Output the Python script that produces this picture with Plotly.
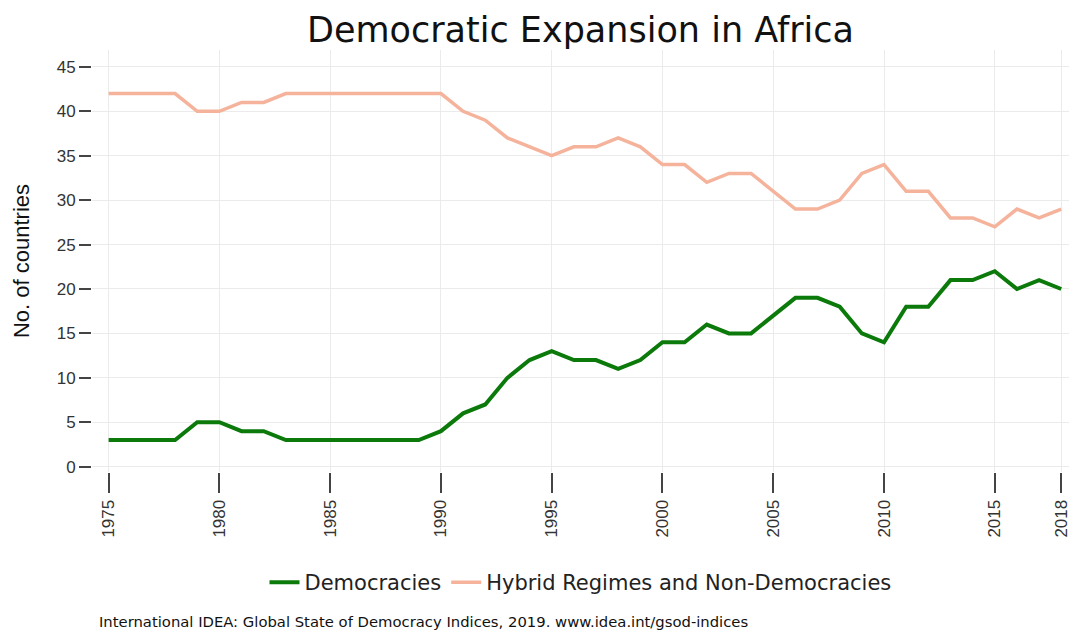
import plotly.graph_objects as go

years = list(range(1975, 2019))
democracies = [3, 3, 3, 3, 5, 5, 4, 4, 3, 3, 3, 3, 3, 3, 3, 4, 6, 7, 10, 12,
               13, 12, 12, 11, 12, 14, 14, 16, 15, 15, 17, 19, 19, 18, 15, 14,
               18, 18, 21, 21, 22, 20, 21, 20]
hybrid = [42, 42, 42, 42, 40, 40, 41, 41, 42, 42, 42, 42, 42, 42, 42, 42, 40, 39,
          37, 36, 35, 36, 36, 37, 36, 34, 34, 32, 33, 33, 31, 29, 29, 30, 33, 34,
          31, 31, 28, 28, 27, 29, 28, 29]
x_ticks = [1975, 1980, 1985, 1990, 1995, 2000, 2005, 2010, 2015, 2018]
y_ticks = [0, 5, 10, 15, 20, 25, 30, 35, 40, 45]

fig = go.Figure()
fig.add_trace(go.Scatter(x=years, y=democracies, mode="lines", name="Democracies",
                         line=dict(color="#0b7a0b", width=4)))
fig.add_trace(go.Scatter(x=years, y=hybrid, mode="lines",
                         name="Hybrid Regimes and Non-Democracies",
                         line=dict(color="#f5b39c", width=3.5)))

font_family = "Liberation Sans, Arial, sans-serif"
wide_family = "DejaVu Sans, Liberation Sans, sans-serif"
fig.update_layout(
    width=1073, height=630,
    margin=dict(l=92, r=4, t=50, b=158),
    paper_bgcolor="white", plot_bgcolor="white",
    font=dict(family=font_family, color="#222"),
    title=dict(text="Democratic Expansion in Africa", x=0.5, xref="paper",
               xanchor="center", y=1 - 30 / 630, yanchor="middle",
               font=dict(size=35, color="#111", family=wide_family)),
    legend=dict(orientation="h", x=0.5, xanchor="center", y=-0.262, yanchor="middle",
                font=dict(size=21, color="#222", family=wide_family), itemwidth=30),
    showlegend=True,
)
fig.update_xaxes(range=[1974.25, 2018.35], tickvals=x_ticks, ticktext=[str(v) for v in x_ticks],
                 tickangle=-90, ticks="outside", ticklen=20, tickcolor="#444", tickwidth=1.5,
                 showgrid=True, gridcolor="#ebebeb", gridwidth=1, zeroline=False,
                 showline=False, tickfont=dict(size=17, color="#333"),
                 ticklabeloverflow="allow", automargin=False)
fig.update_yaxes(range=[-0.6, 46.9], tickvals=y_ticks, ticks="outside", ticklen=12,
                 tickcolor="#444", tickwidth=1.5, showgrid=True, gridcolor="#ebebeb",
                 gridwidth=1, zeroline=False, showline=False,
                 tickfont=dict(size=17, color="#333"), automargin=False,
                 title=dict(text="No. of countries", font=dict(size=22, color="#111"),
                            standoff=20))
fig.add_annotation(text="International IDEA: Global State of Democracy Indices, 2019. www.idea.int/gsod-indices",
                   xref="paper", yref="paper", x=0.005, y=-0.355, xanchor="left",
                   yanchor="middle", showarrow=False,
                   font=dict(size=14.8, color="#111", family=wide_family))
fig.write_html("out.html", config={"displayModeBar": False},
               post_script="document.body.style.margin='0px';")
